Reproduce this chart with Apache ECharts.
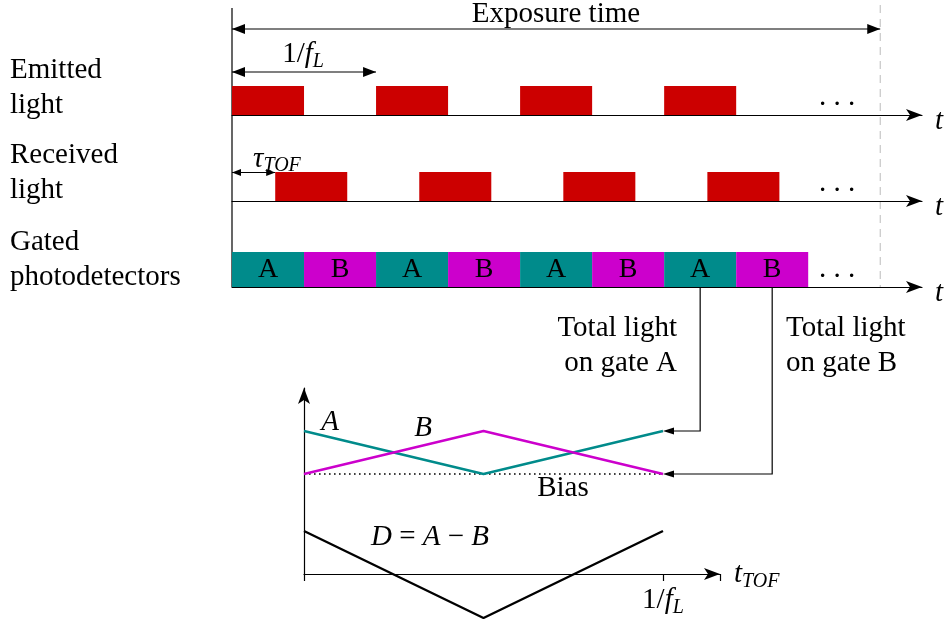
<!DOCTYPE html>
<html>
<head>
<meta charset="utf-8">
<script src="https://cdn.jsdelivr.net/npm/echarts@6/dist/echarts.min.js"></script>
<style>
html, body { margin: 0; padding: 0; background: #fff; }
#main { width: 949px; height: 624px; }
</style>
</head>
<body>
<div id="main"></div>
<script>
// time is counted in laser periods (1/fL)
var emittedStarts = [0, 1, 2, 3];
var receivedStarts = [0.3, 1.3, 2.3, 3.3];
var pulseWidth = 0.5;
var gateStarts = [0, 0.5, 1, 1.5, 2, 2.5, 3, 3.5];
var gateLabels = ['A', 'B', 'A', 'B', 'A', 'B', 'A', 'B'];
var exposureEnd = 4.5;
var tauTof = 0.3;
var timeAxisMax = 4.79;

// lower plot: signals over one period of tTOF
var tofPoints = [0, 0.5, 1];
var signalA = [1.43, 1.0, 1.43];
var signalB = [1.0, 1.43, 1.0];
var signalD = [0.43, -0.44, 0.43];
var biasLevel = 1.0;

var SERIF = 'Liberation Serif';
var RED = '#cc0000', TEAL = '#008b8b', MAGENTA = '#cc00cc';

function pulses(starts) {
    return starts.map(function (s) { return [s, s + pulseWidth, 1]; });
}

function pulseRender(params, api) {
    var p0 = api.coord([api.value(0), api.value(2)]);
    var p1 = api.coord([api.value(1), 0]);
    return {
        type: 'rect',
        shape: { x: p0[0], y: p0[1], width: p1[0] - p0[0], height: p1[1] - p0[1] },
        style: { fill: RED }
    };
}

function gateRender(params, api) {
    var p0 = api.coord([api.value(0), 1]);
    var p1 = api.coord([api.value(1), 0]);
    var label = gateLabels[params.dataIndex];
    return {
        type: 'group',
        children: [{
            type: 'rect',
            shape: { x: p0[0], y: p0[1], width: p1[0] - p0[0], height: p1[1] - p0[1] },
            style: { fill: label === 'A' ? TEAL : MAGENTA }
        }, {
            type: 'text',
            style: {
                text: label, x: (p0[0] + p1[0]) / 2, y: (p0[1] + p1[1]) / 2,
                align: 'center', verticalAlign: 'middle', textAlign: 'center', textVerticalAlign: 'middle',
                font: '28px "' + SERIF + '"', fill: '#000'
            }
        }]
    };
}

function rowAxis(i) {
    return {
        type: 'value', gridIndex: i, min: 0, max: timeAxisMax,
        axisLine: { show: true, onZero: false, symbol: ['none', 'arrow'], symbolSize: [9, 16], lineStyle: { color: '#000', width: 1.2 } },
        axisTick: { show: false }, axisLabel: { show: false }, splitLine: { show: false }
    };
}
function hiddenY(i, max) {
    return { type: 'value', gridIndex: i, min: 0, max: max, show: false };
}

var subRich = {
    n: { fontFamily: SERIF, fontSize: 29, color: '#000', lineHeight: 36, verticalAlign: 'middle' },
    i: { fontFamily: SERIF, fontSize: 29, fontStyle: 'italic', color: '#000', lineHeight: 36, verticalAlign: 'middle' },
    s: { fontFamily: SERIF, fontSize: 20, fontStyle: 'italic', color: '#000', lineHeight: 20, verticalAlign: 'bottom' }
};

var option = {
    animation: false,
    backgroundColor: '#fff',
    grid: [
        { left: 232, width: 690, top: 86, height: 29 },
        { left: 232, width: 690, top: 172, height: 29 },
        { left: 232, width: 690, top: 252, height: 35 },
        { left: 304, width: 416, top: 388, height: 186 }
    ],
    xAxis: [
        rowAxis(0), rowAxis(1), rowAxis(2),
        {
            type: 'value', gridIndex: 3, min: 0, max: 1.1588, interval: 1,
            axisLine: { show: true, symbol: ['none', 'arrow'], symbolSize: [9, 16], lineStyle: { color: '#000', width: 1.2 } },
            axisTick: { show: true, length: 7, lineStyle: { color: '#000', width: 1.2 } },
            axisLabel: {
                margin: 8,
                formatter: function (v) { return v === 1 ? '{n|1/}{i|f}{s|L}' : ''; },
                rich: subRich
            },
            splitLine: { show: false },
            name: '{i|t}{s|TOF}', nameLocation: 'end', nameGap: 14,
            nameTextStyle: { rich: subRich, padding: [0, 0, 0, 0] }
        }
    ],
    yAxis: [
        hiddenY(0, 1), hiddenY(1, 1), hiddenY(2, 1),
        {
            type: 'value', gridIndex: 3, min: 0, max: 1.86,
            axisLine: { show: true, symbol: ['none', 'arrow'], symbolSize: [9, 16], lineStyle: { color: '#000', width: 1.2 } },
            axisTick: { show: false }, axisLabel: { show: false }, splitLine: { show: false }
        }
    ],
    series: [
        { type: 'custom', xAxisIndex: 0, yAxisIndex: 0, renderItem: pulseRender, data: pulses(emittedStarts) },
        { type: 'custom', xAxisIndex: 1, yAxisIndex: 1, renderItem: pulseRender, data: pulses(receivedStarts) },
        {
            type: 'custom', xAxisIndex: 2, yAxisIndex: 2, renderItem: gateRender,
            data: gateStarts.map(function (s) { return [s, s + 0.5]; })
        },
        {
            name: 'Bias', type: 'line', xAxisIndex: 3, yAxisIndex: 3, symbol: 'none',
            data: [[tofPoints[0], biasLevel], [tofPoints[2], biasLevel]],
            lineStyle: { color: '#000', width: 1.6, type: [1.6, 3.4] }
        },
        {
            name: 'A', type: 'line', xAxisIndex: 3, yAxisIndex: 3, symbol: 'none',
            data: tofPoints.map(function (t, k) { return [t, signalA[k]]; }),
            lineStyle: { color: TEAL, width: 2.4 }
        },
        {
            name: 'B', type: 'line', xAxisIndex: 3, yAxisIndex: 3, symbol: 'none',
            data: tofPoints.map(function (t, k) { return [t, signalB[k]]; }),
            lineStyle: { color: MAGENTA, width: 2.4 }
        },
        {
            name: 'D', type: 'line', xAxisIndex: 3, yAxisIndex: 3, symbol: 'none', clip: false,
            data: tofPoints.map(function (t, k) { return [t, signalD[k]]; }),
            lineStyle: { color: '#000', width: 2.4 },
            markLine: {
                silent: true, symbol: 'none', label: { show: false },
                lineStyle: { color: '#bbb', width: 1, type: [7, 5] },
                data: [[{ coord: [1, 1.74] }, { coord: [1, -0.04] }]]
            }
        }
    ]
};

var chart = echarts.init(document.getElementById('main'));
chart.setOption(option);

// annotations placed from the axes' own scales
function px(grid, x, y) { return chart.convertToPixel({ gridIndex: grid }, [x, y]); }

var g = [];
function seg(x1, y1, x2, y2, style) {
    g.push({ type: 'line', silent: true, shape: { x1: x1, y1: y1, x2: x2, y2: y2 },
        style: Object.assign({ stroke: '#000', lineWidth: 1.2 }, style || {}) });
}
function head(x, y, dx, dy, L, W) {
    g.push({ type: 'polygon', silent: true, shape: { points: [
        [x, y], [x - dx * L - dy * W, y - dy * L + dx * W], [x - dx * L + dy * W, y - dy * L - dx * W]
    ] }, style: { fill: '#000' } });
}
function dblArrow(xa, xb, y, L, W) {
    seg(xa, y, xb, y);
    head(xa, y, -1, 0, L, W);
    head(xb, y, 1, 0, L, W);
}
function txt(text, x, y, align, extra) {
    var st = Object.assign({
        text: text, font: '29px "' + SERIF + '"', fill: '#000',
        align: align, textAlign: align, verticalAlign: 'middle', textVerticalAlign: 'middle'
    }, extra || {});
    g.push({ type: 'text', silent: true, x: x, y: y, style: st });
}

var x0 = px(0, 0, 0)[0];
var xExp = px(0, exposureEnd, 0)[0];
var yGateBase = px(2, 0, 0)[1];

// frame and exposure boundary
seg(x0, 8, x0, yGateBase);
seg(xExp, 5, xExp, yGateBase, { stroke: '#bbb', lineWidth: 1, lineDash: [8, 6] });

// dimension arrows
dblArrow(x0, xExp, 29, 13, 5);
dblArrow(x0, px(0, 1, 0)[0], 72, 13, 5);
dblArrow(x0, px(1, tauTof, 0)[0], 172.5, 9, 3.5);

// connectors from the last A and B gates to the end of the signal curves
var gA = px(2, gateStarts[6] + 0.25, 0)[0];
var gB = px(2, gateStarts[7] + 0.25, 0)[0];
var endA = px(3, tofPoints[2], signalA[2]);
var endB = px(3, tofPoints[2], signalB[2]);
g.push({ type: 'polyline', silent: true, shape: { points: [[gA, yGateBase], [gA, endA[1]], [endA[0] + 8, endA[1]]] },
    style: { stroke: '#000', lineWidth: 1.2, fill: null } });
head(endA[0], endA[1], -1, 0, 11, 3.5);
g.push({ type: 'polyline', silent: true, shape: { points: [[gB, yGateBase], [gB, endB[1]], [endB[0] + 8, endB[1]]] },
    style: { stroke: '#000', lineWidth: 1.2, fill: null } });
head(endB[0], endB[1], -1, 0, 11, 3.5);

// time axis names, just right of and slightly below each arrow
[0, 1, 2].forEach(function (i) {
    var end = px(i, timeAxisMax, 0);
    txt('t', end[0] + 13, end[1] + 6, 'left', { font: 'italic 29px "' + SERIF + '"' });
});

// texts
txt('Emitted\nlight', 10, 87.5, 'left', { lineHeight: 35 });
txt('Received\nlight', 10, 173, 'left', { lineHeight: 35 });
txt('Gated\nphotodetectors', 10, 259.5, 'left', { lineHeight: 35 });
txt('Exposure time', 556, 14, 'center');
txt('{n|1/}{i|f}{s|L}', 303, 54, 'center', { rich: subRich });
txt('{t|\u03c4}{s|TOF}', 253, 159, 'left', { rich: {
    t: { fontFamily: SERIF, fontSize: 29, fontStyle: 'italic', color: '#000', lineHeight: 34, verticalAlign: 'middle' },
    s: subRich.s
} });
txt('. . .', 837, 97, 'center');
txt('. . .', 837, 183, 'center');
txt('. . .', 837, 269, 'center');
txt('Total light\non gate A', 677, 345.5, 'right', { lineHeight: 35 });
txt('Total light\non gate B', 786, 345.5, 'left', { lineHeight: 35 });
txt('A', 330, 422, 'center', { font: 'italic 29px "' + SERIF + '"' });
txt('B', 423, 428, 'center', { font: 'italic 29px "' + SERIF + '"' });
txt('Bias', 563, 488, 'center');
txt('{i|D} {n|=} {i|A} {n|\u2212} {i|B}', 371, 537, 'left', { rich: subRich });

chart.setOption({ graphic: { elements: g } });
</script>
</body>
</html>
